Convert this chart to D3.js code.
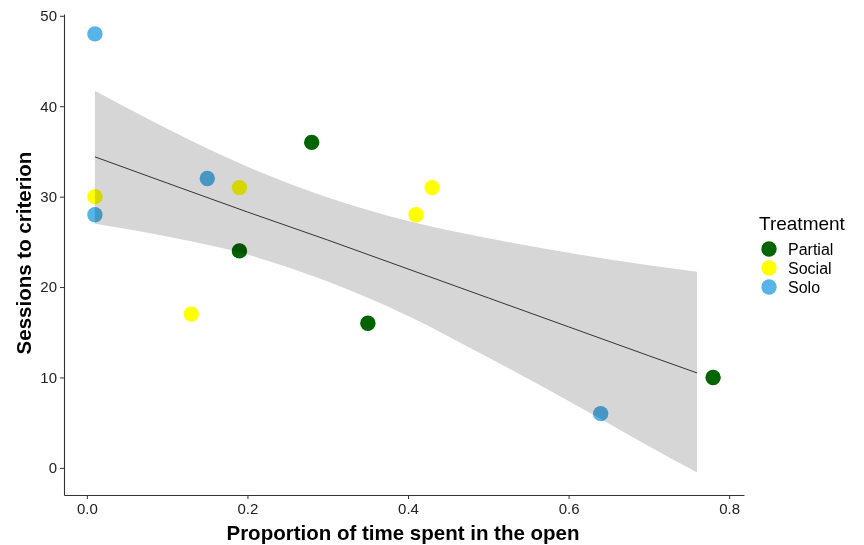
<!DOCTYPE html>
<html>
<head>
<meta charset="utf-8">
<script src="https://cdn.jsdelivr.net/npm/d3@7"></script>
<style>
  body { margin: 0; background: #fff; }
  text { font-family: "Liberation Sans", Arial, sans-serif; }
</style>
</head>
<body>
<svg id="chart" width="864" height="545"></svg>
<script>
// points
const treatments = ['Partial', 'Social', 'Solo'];
const colors = ['#006400', '#FFFF00', '#56B4E9'];

const partialX = [0.28, 0.19, 0.35, 0.78];
const partialY = [36, 24, 16, 10];
const socialX = [0.01, 0.13, 0.19, 0.41, 0.43];
const socialY = [30, 17, 31, 28, 31];
const soloX = [0.01, 0.01, 0.15, 0.64];
const soloY = [48, 28, 32, 6];

// fitted line and confidence band
const bandX = [0.01, 0.1, 0.2, 0.3, 0.4, 0.5, 0.6, 0.7, 0.76];
const fitY = [34.4, 31.5, 28.3, 25.2, 22.0, 18.8, 15.6, 12.4, 10.5];
const upperY = [41.7, 37.5, 33.3, 29.9, 27.3, 25.4, 23.8, 22.4, 21.7];
const lowerY = [27.0, 25.6, 23.6, 20.6, 16.8, 12.2, 7.4, 2.4, -0.5];

const xTicks = [0, 0.2, 0.4, 0.6, 0.8];
const yTicks = [0, 10, 20, 30, 40, 50];

const svg = d3.select('#chart');

let x = d3.scaleLinear().domain([-0.0285, 0.8185]).range([64, 744]);
let y = d3.scaleLinear().domain([-3.0, 50.2]).range([495, 14]);

let points = [];
[[partialX, partialY], [socialX, socialY], [soloX, soloY]].forEach((s, i) => {
  s[0].forEach((v, j) => points.push({x: v, y: s[1][j], t: treatments[i]}));
});
let color = d3.scaleOrdinal().domain(treatments).range(colors);

// points first, band goes over them
svg.append('g').selectAll('circle')
  .data(points)
  .enter()
  .append('circle')
  .attr('cx', d => x(d.x))
  .attr('cy', d => y(d.y))
  .attr('r', 7.7)
  .style('fill', d => color(d.t))
;

let band = bandX.map((v, i) => ({x: v, lo: lowerY[i], hi: upperY[i], fit: fitY[i]}));

svg.append('path')
  .datum(band)
  .attr('d', d3.area()
    .x(d => x(d.x))
    .y0(d => y(d.lo))
    .y1(d => y(d.hi))
    .curve(d3.curveMonotoneX))
  .style('fill', '#d6d6d6')
  .style('mix-blend-mode', 'multiply')
;

svg.append('path')
  .datum(band)
  .attr('d', d3.line().x(d => x(d.x)).y(d => y(d.fit)))
  .style('fill', 'none')
  .style('stroke', '#333')
  .style('stroke-width', 1)
;

// axes
let xAxis = svg.append('g')
  .attr('transform', 'translate(0,495)')
  .call(d3.axisBottom(x).tickValues(xTicks).tickFormat(d3.format('.1f'))
    .tickSize(4).tickSizeOuter(0).tickPadding(4));
let yAxis = svg.append('g')
  .attr('transform', 'translate(64,0)')
  .call(d3.axisLeft(y).tickValues(yTicks).tickSize(4).tickSizeOuter(0).tickPadding(3));

[xAxis, yAxis].forEach(a => {
  a.select('.domain').style('stroke', '#333').style('stroke-width', 1.1);
  a.selectAll('.tick line').style('stroke', '#333');
  a.selectAll('.tick text').style('font-size', '15px').style('fill', '#222');
});

// axis titles
svg.append('text')
  .attr('x', 403).attr('y', 540)
  .attr('text-anchor', 'middle')
  .style('font-size', '20.5px').style('font-weight', 'bold')
  .text('Proportion of time spent in the open');

svg.append('text')
  .attr('transform', 'translate(31,253) rotate(-90)')
  .attr('text-anchor', 'middle')
  .style('font-size', '20.5px').style('font-weight', 'bold')
  .text('Sessions to criterion');

// legend
let legend = svg.append('g');
legend.append('text')
  .attr('x', 759).attr('y', 230)
  .style('font-size', '19px')
  .text('Treatment');

let items = legend.selectAll('g.item')
  .data(treatments)
  .enter()
  .append('g')
  .attr('class', 'item')
  .attr('transform', (d, i) => `translate(769,${249 + i * 19})`);
items.append('circle').attr('r', 7.7).style('fill', d => color(d));
items.append('text')
  .attr('x', 19).attr('y', 5.5)
  .style('font-size', '16px')
  .text(d => d);
</script>
</body>
</html>
